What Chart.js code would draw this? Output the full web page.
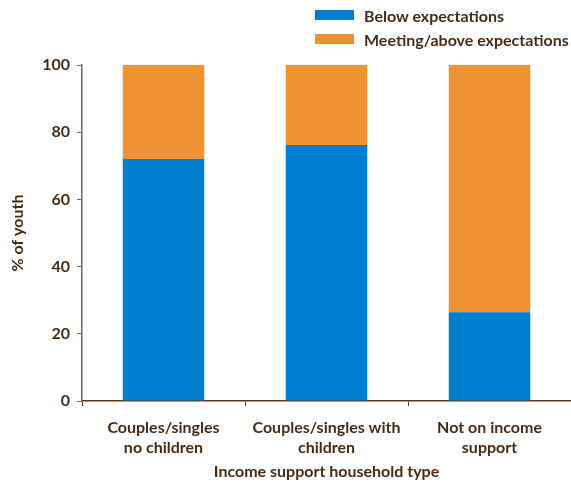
<!DOCTYPE html>
<html>
<head>
<meta charset="utf-8">
<script src="https://cdn.jsdelivr.net/npm/chart.js@4/dist/chart.umd.min.js"></script>
<style>
  body { margin: 0; background: #fff; }
  #wrap { position: relative; width: 571px; height: 482px; }
  #legend { position: absolute; left: 315px; top: 3px; font: bold 16px Lato, sans-serif; color: #4a2c14; }
  #legend div { height: 24px; display: flex; align-items: center; }
  #legend span.box { display: inline-block; width: 39px; height: 10px; margin-right: 10px; }
</style>
</head>
<body>
<div id="wrap">
  <canvas id="chart" width="571" height="482"></canvas>
  <div id="legend"></div>
</div>
<script>
// dados do gráfico
const categories = [['Couples/singles', 'no children'], ['Couples/singles with', 'children'], ['Not on income', 'support']];
const below = [72, 76.2, 26.4];
const meeting = [28, 23.8, 73.6];
const seriesNames = ['Below expectations', 'Meeting/above expectations'];
const seriesColors = ['#007fd0', '#f09232'];

const textColor = '#4a2c14';
const fontSpec = { family: 'Lato, sans-serif', size: 16, weight: 'bold', lineHeight: 1.25 };

Chart.defaults.animation = false;

const chart = new Chart(document.getElementById('chart'), {
  type: 'bar',
  data: {
    labels: categories,
    datasets: [
      { label: seriesNames[0], data: below, backgroundColor: seriesColors[0] },
      { label: seriesNames[1], data: meeting, backgroundColor: seriesColors[1] },
    ],
  },
  options: {
    responsive: false,
    layout: { padding: { top: 65, right: 0 } },
    plugins: { legend: { display: false }, tooltip: { enabled: false } },
    datasets: { bar: { categoryPercentage: 0.5, barPercentage: 1 } },
    scales: {
      x: {
        stacked: true,
        grid: { drawOnChartArea: false, tickLength: 5, color: '#5a3a1e' },
        border: { color: '#5a3a1e', width: 1.5 },
        ticks: { color: textColor, font: fontSpec, padding: 12, maxRotation: 0 },
        title: { display: true, text: 'Income support household type', color: textColor, font: fontSpec, padding: { top: 6, bottom: 0 } },
        afterFit: function (s) { s.height = 81; },
      },
      y: {
        stacked: true,
        min: 0,
        max: 100,
        ticks: { stepSize: 20, color: textColor, font: fontSpec, padding: 7 },
        grid: { drawOnChartArea: false, tickLength: 5, color: '#7a6450' },
        border: { color: '#7a6450', width: 1.5 },
        title: { display: true, text: '% of youth', color: textColor, font: fontSpec, padding: { top: 8 } },
        afterFit: function (s) { s.width = 82; },
      },
    },
  },
});

// legenda em HTML, duas linhas
const legend = document.getElementById('legend');
chart.data.datasets.forEach(function (ds) {
  const row = document.createElement('div');
  row.innerHTML = '<span class="box" style="background:' + ds.backgroundColor + '"></span>' + ds.label;
  legend.appendChild(row);
});
</script>
</body>
</html>
